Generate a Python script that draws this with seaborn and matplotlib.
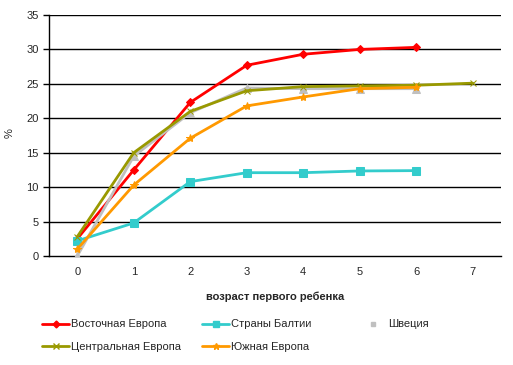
import matplotlib
matplotlib.use("Agg")
import matplotlib.pyplot as plt
import seaborn as sns
import pandas as pd
from matplotlib.lines import Line2D

ages = [0, 1, 2, 3, 4, 5, 6, 7]
east = [2.5, 12.5, 22.3, 27.7, 29.3, 30.0, 30.3]
baltic = [2.2, 4.8, 10.8, 12.1, 12.1, 12.35, 12.4]
sweden = [0.0, 14.5, 20.8, 24.4, 24.3, 24.3, 24.3]
central = [2.8, 15.0, 21.0, 24.0, 24.6, 24.7, 24.8, 25.1]
south = [1.0, 10.3, 17.1, 21.8, 23.1, 24.3, 24.5]

names = ["Восточная Европа", "Страны Балтии", "Швеция", "Центральная Европа", "Южная Европа"]
values = [east, baltic, sweden, central, south]
colors = ["#FF0000", "#33CCCC", "#C0C0C0", "#999900", "#FF9900"]
markers = ["D", "s", "^", "x", "*"]
msizes = [4.5, 6, 6, 5, 6]

rows = []
for n, v in zip(names, values):
    for a, y in zip(ages, v):
        rows.append({"age": a, "val": y, "series": n})
df = pd.DataFrame(rows)

sns.set_style("white")
plt.rcParams['font.family'] = ['Liberation Sans', 'DejaVu Sans']

fig = plt.figure(figsize=(5.13, 3.65), dpi=100)
ax = fig.add_axes([49/513, 1-256/365, (501-49)/513, (256-15)/365])

for n, c, m, ms in zip(names, colors, markers, msizes):
    d = df[df.series == n]
    sns.lineplot(data=d, x="age", y="val", ax=ax, color=c, marker=m, markersize=ms,
                 markeredgecolor=c, markerfacecolor=c,
                 linewidth=2, legend=False, zorder=3)

ax.set_xlim(-0.5, 7.5)
ax.set_ylim(0, 35)
ax.set_yticks(range(0, 36, 5))
ax.set_xticks(ages)
ax.set_xticks([i - 0.5 for i in range(9)], minor=True)
ax.tick_params(axis='x', which='major', length=0, labelsize=8, pad=8)
ax.tick_params(axis='x', which='minor', length=4, width=1, color='black', direction='out')
ax.tick_params(axis='y', length=4, width=1, color='black', direction='out', labelsize=8, left=True)
for y in range(5, 36, 5):
    ax.axhline(y, color='black', linewidth=1, zorder=1)
for s in ['top', 'right']:
    ax.spines[s].set_visible(False)
for s in ['left', 'bottom']:
    ax.spines[s].set_color('black')
    ax.spines[s].set_linewidth(1)

ax.set_xlabel("возраст первого ребенка", fontsize=8, fontweight='bold', labelpad=10)
ax.set_ylabel("%", fontsize=8)
ax.yaxis.set_label_coords((15 - 49) / 452, 0.51)

handles = []
for n, c, m, ms in zip(names, colors, markers, msizes):
    if n == "Швеция":
        h = Line2D([], [], color=c, marker='s', markersize=3, linestyle='none')
    else:
        h = Line2D([], [], color=c, marker=m, markersize=ms - 1, linewidth=2)
    handles.append(h)

cols = [([0, 3], 38), ([1, 4], 198), ([2], 355)]
for idx, xpx in cols:
    leg = fig.legend([handles[i] for i in idx], [names[i] for i in idx], ncol=1,
                     loc='upper left', bbox_to_anchor=(xpx/513, 1-315/365), frameon=False,
                     fontsize=8, handlelength=2.4, handletextpad=0.2,
                     labelspacing=1.15, borderaxespad=0)

fig.savefig("out.png", dpi=100)
